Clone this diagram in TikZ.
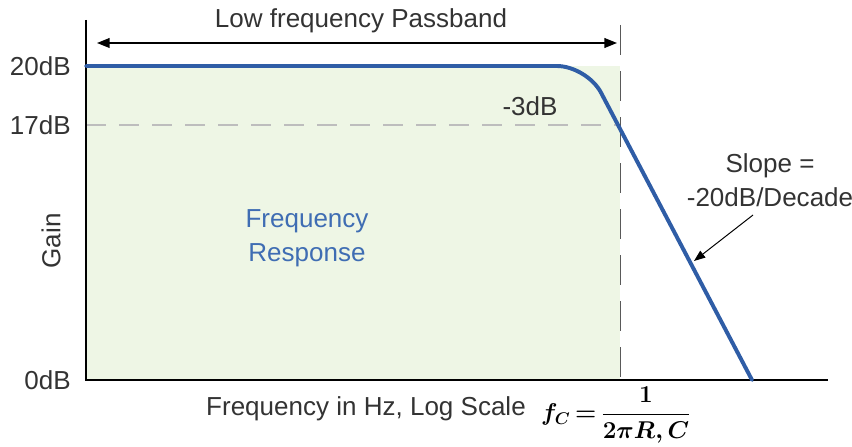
\documentclass[tikz,border=0pt]{standalone}
\usepackage{fontspec}
\setmainfont{Liberation Sans}
\usepackage{amsmath,amssymb}
\usepackage{tikz}
\usetikzlibrary{arrows.meta,positioning,calc}
\definecolor{passgreen}{HTML}{EEF6E5}
\definecolor{curveblue}{HTML}{2F5DA6}
\definecolor{textblue}{HTML}{3F6DB3}
\definecolor{labelgray}{HTML}{333333}
\definecolor{dashgray}{HTML}{BDBDBD}
\tikzset{every node/.append style={align=center}}

\begin{document}
\begin{tikzpicture}[x=0.025cm, y=-0.025cm, >={Triangle[length=9pt,width=7pt]},
  every node/.style={font=\fontsize{18.5}{22}\selectfont, text=labelgray, align=center, inner sep=0pt},
  axisline/.style={line width=1.6pt, black},
  response/.style={line width=2.8pt, curveblue, rounded corners=0.75cm, line cap=round}]
  \useasboundingbox (0,0) rectangle (852,446);

  % passband area
  \fill[passgreen] (86,66) rectangle (620,380);
  \draw[dashgray, line width=1.4pt, dash pattern=on 0.5cm off 0.325cm] (86,125) -- (618,125);
  \draw[gray!70!black, line width=0.6pt, dash pattern=on 0.75cm off 0.4cm] (620,25) -- (620,380);

  % axes
  \coordinate (o) at (86,380);
  \coordinate (ytop) at (86,20);
  \coordinate (xend) at (828,380);
  \draw[axisline] (ytop) -- (o) -- (xend);

  % response curve
  \draw[response] (86,66) -- (587,66) -- (752,380);

  % passband arrow
  \coordinate (pl) at (97,43);
  \coordinate (pr) at (617,43);
  \draw[<->, line width=1pt] (pl) -- (pr);
  \node (pass) at (361,21) {Low frequency Passband};

  % gain labels
  \node[anchor=east] (g20) at (71,66) {20dB};
  \node[anchor=east] (g17) at (71,125) {17dB};
  \node[anchor=east] (g0) at (71,380) {0dB};
  \node[rotate=90] (gain) at (51,241) {Gain};
  \node (db3) at (530,106) {-3dB};
  \node[text=textblue] (resp) at (307,238) {Frequency\\[2pt]Response};

  % slope note
  \node (slope) at (770,180) {Slope =\\[2pt]-20dB/Decade};
  \coordinate (tip) at (694,261);
  \draw[->, line width=0.7pt, >={Triangle[length=8pt,width=6pt]}] (753,215) -- (tip);

  % frequency axis
  \node (xlab) at (366,409) {Frequency in Hz, Log Scale};
  \node[text=black, font=\fontsize{17}{20}\selectfont\boldmath] (fc) at (616,415) {$f_C\mkern-2mu=\mkern-2mu\dfrac{1}{2\pi R,C}$};
\end{tikzpicture}
\end{document}
